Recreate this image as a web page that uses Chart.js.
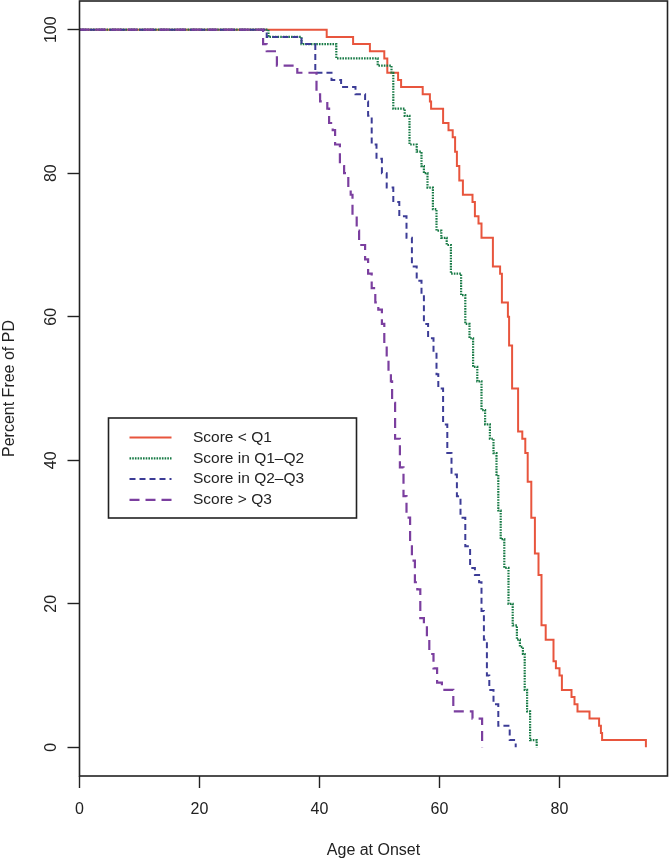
<!DOCTYPE html>
<html><head><meta charset="utf-8">
<script src="https://cdn.jsdelivr.net/npm/chart.js@4/dist/chart.umd.min.js"></script>
<style>html,body{margin:0;padding:0;background:#fff}</style>
</head><body>
<canvas id="c" width="670" height="860"></canvas>
<script>
// ---- data (age at onset, percent free of PD) ----
const seriesNames = ['Score < Q1', 'Score in Q1\u2013Q2', 'Score in Q2\u2013Q3', 'Score > Q3'];

const q1Age = [0, 41.2, 45.6, 48.4, 50.8, 51.3, 53.1, 53.6, 57.2, 58.4, 58.6, 60.6, 61.5, 62.2, 62.6, 62.9, 63.3, 63.9, 65.5, 65.9, 66.5, 67.0, 68.9, 70.1, 70.4, 71.4, 71.6, 72.1, 73.1, 73.8, 74.3, 74.7, 75.3, 75.9, 76.5, 77.0, 77.7, 79.0, 79.4, 80.0, 80.4, 82.0, 82.5, 83.0, 85.0, 86.6, 86.9, 87.1, 94.4];
const q1Pct = [100, 99, 98, 97, 96, 94, 93, 92, 91, 90, 89, 87, 86, 85, 83, 81, 79, 77, 76, 74, 73, 71, 67, 66, 62, 60, 56, 50, 44, 43, 41, 37, 32, 27, 24, 17, 15, 12, 11, 10, 8, 7, 6, 5, 4, 3, 2, 1, 0];

const q12Age = [0, 31.5, 37.0, 42.8, 49.7, 52.0, 52.3, 54.2, 55.0, 56.2, 57.0, 57.4, 58.0, 58.9, 59.5, 60.3, 61.2, 61.9, 63.6, 64.3, 65.0, 65.6, 66.3, 67.0, 67.6, 68.4, 69.0, 69.5, 69.8, 70.2, 70.8, 71.5, 72.2, 72.9, 73.4, 73.9, 74.2, 74.6, 75.1, 76.2];
const q12Pct = [100, 99, 98, 96, 95, 94, 89, 88, 84, 83, 81, 80, 78, 75, 72, 71, 70, 66, 63, 59, 57, 53, 51, 47, 45, 43, 41, 38, 33, 29, 25, 20, 17, 15, 14, 13, 8, 5, 1, 0];

const q23Age = [0, 31.2, 37.0, 39.3, 42.0, 43.6, 46.0, 47.6, 48.1, 48.7, 49.5, 50.4, 51.2, 52.3, 53.3, 54.5, 55.4, 56.2, 57.0, 57.4, 58.1, 59.0, 59.5, 59.8, 60.6, 61.3, 62.0, 62.9, 63.5, 64.3, 65.1, 65.9, 66.6, 67.0, 67.4, 67.9, 68.3, 69.0, 69.8, 71.7, 72.7];
const q23Pct = [100, 99, 98, 94, 93, 92, 91, 90, 88, 84, 82, 80, 78, 76, 74, 71, 67, 65, 63, 59, 57, 55, 52, 50, 45, 41, 38, 35, 32, 28, 25, 24, 23, 19, 15, 10, 8, 6, 3, 1, 0];

const q3Age = [0, 30.6, 31.2, 32.9, 36.3, 39.5, 40.1, 41.3, 41.6, 42.2, 42.6, 43.4, 44.1, 44.8, 45.2, 45.5, 46.2, 46.6, 47.6, 48.1, 48.7, 49.3, 49.8, 50.4, 50.8, 51.2, 51.5, 51.9, 52.1, 52.6, 53.4, 54.0, 54.5, 55.1, 55.4, 55.9, 56.3, 56.8, 57.4, 57.9, 58.3, 59.0, 59.6, 60.4, 62.3, 65.5, 67.1];
const q3Pct = [100, 98, 97, 95, 94, 91, 90, 89, 87, 86, 84, 81, 80, 78, 77, 74, 72, 70, 68, 66, 64, 62, 61, 59, 56, 54, 52, 51, 48, 43, 39, 35, 32, 28, 26, 23, 22, 18, 17, 15, 13, 11, 9, 8, 5, 4, 0];

const xTicks = [0, 20, 40, 60, 80];
const yTicks = [0, 20, 40, 60, 80, 100];

// ---- styling ----
const FONT = '"Liberation Sans", Arial, Helvetica, sans-serif';
const INK = '#222222';
const styles = [
  { color: '#e8553d', dash: [], width: 2, order: 3 },
  { color: '#177a45', dash: [1.6, 1.1], width: 2.2, order: 2 },
  { color: '#3c3c96', dash: [6, 4], width: 2, order: 1 },
  { color: '#7b3f9f', dash: [10, 6], width: 2.2, order: 0 }
];
const ages = [q1Age, q12Age, q23Age, q3Age];
const pcts = [q1Pct, q12Pct, q23Pct, q3Pct];

const datasets = seriesNames.map((name, i) => ({
  label: name,
  data: ages[i].map((a, k) => ({ x: a, y: pcts[i][k] })),
  borderColor: styles[i].color,
  borderWidth: styles[i].width,
  borderDash: styles[i].dash,
  borderCapStyle: 'butt',
  stepped: 'before',
  tension: 0,
  pointRadius: 0,
  fill: false,
  order: styles[i].order
}));

const boxPlugin = {
  id: 'box',
  afterDraw(chart) {
    const { ctx, chartArea: a } = chart;
    ctx.save();
    ctx.strokeStyle = INK;
    ctx.lineWidth = 1.6;
    ctx.setLineDash([]);
    ctx.strokeRect(a.left, a.top, a.right - a.left, a.bottom - a.top);
    ctx.restore();
  }
};

const legendPlugin = {
  id: 'rlegend',
  afterDraw(chart) {
    const { ctx, chartArea: a } = chart;
    const bx = a.left + 29, by = a.top + 417, bw = 248, bh = 100;
    ctx.save();
    ctx.fillStyle = '#ffffff';
    ctx.fillRect(bx, by, bw, bh);
    ctx.strokeStyle = INK;
    ctx.lineWidth = 1.6;
    ctx.setLineDash([]);
    ctx.strokeRect(bx, by, bw, bh);
    ctx.font = '15.5px ' + FONT;
    ctx.textBaseline = 'middle';
    ctx.textAlign = 'left';
    seriesNames.forEach((name, i) => {
      const y = by + 19.5 + i * 20.8;
      ctx.beginPath();
      ctx.strokeStyle = styles[i].color;
      ctx.lineWidth = styles[i].width;
      ctx.setLineDash(styles[i].dash);
      ctx.moveTo(bx + 21, y);
      ctx.lineTo(bx + 63, y);
      ctx.stroke();
      ctx.fillStyle = INK;
      ctx.fillText(name, bx + 84.5, y);
    });
    ctx.restore();
  }
};

new Chart(document.getElementById('c'), {
  type: 'line',
  data: { datasets },
  options: {
    responsive: false,
    animation: false,
    layout: { padding: { top: 1, right: 2.5, left: 0, bottom: 0 } },
    plugins: { legend: { display: false }, tooltip: { enabled: false } },
    scales: {
      x: {
        type: 'linear', min: 0, max: 98,
        afterBuildTicks: s => { s.ticks = xTicks.map(v => ({ value: v })); },
        afterFit: s => { s.height = 84; s.paddingLeft = 0; s.paddingRight = 0; },
        grid: { drawOnChartArea: false, drawTicks: true, tickLength: 12, tickWidth: 1.4, tickColor: INK },
        border: { display: false },
        ticks: { font: { family: FONT, size: 16 }, color: INK, padding: 12, maxRotation: 0 },
        title: { display: true, text: 'Age at Onset', font: { family: FONT, size: 16 }, color: INK, padding: { top: 0, bottom: 0 } }
      },
      y: {
        type: 'linear', min: -4, max: 104,
        afterBuildTicks: s => { s.ticks = yTicks.map(v => ({ value: v })); },
        afterFit: s => { s.width = 79.5; s.paddingTop = 0; s.paddingBottom = 0; },
        grid: { drawOnChartArea: false, drawTicks: true, tickLength: 12, tickWidth: 1.4, tickColor: INK },
        border: { display: false },
        ticks: { font: { family: FONT, size: 16 }, color: INK, padding: 3, minRotation: 90, maxRotation: 90, crossAlign: 'center' },
        title: { display: true, text: 'Percent Free of PD', font: { family: FONT, size: 16 }, color: INK, padding: { top: 0, bottom: 0 } }
      }
    }
  },
  plugins: [boxPlugin, legendPlugin]
});
</script>
</body></html>
